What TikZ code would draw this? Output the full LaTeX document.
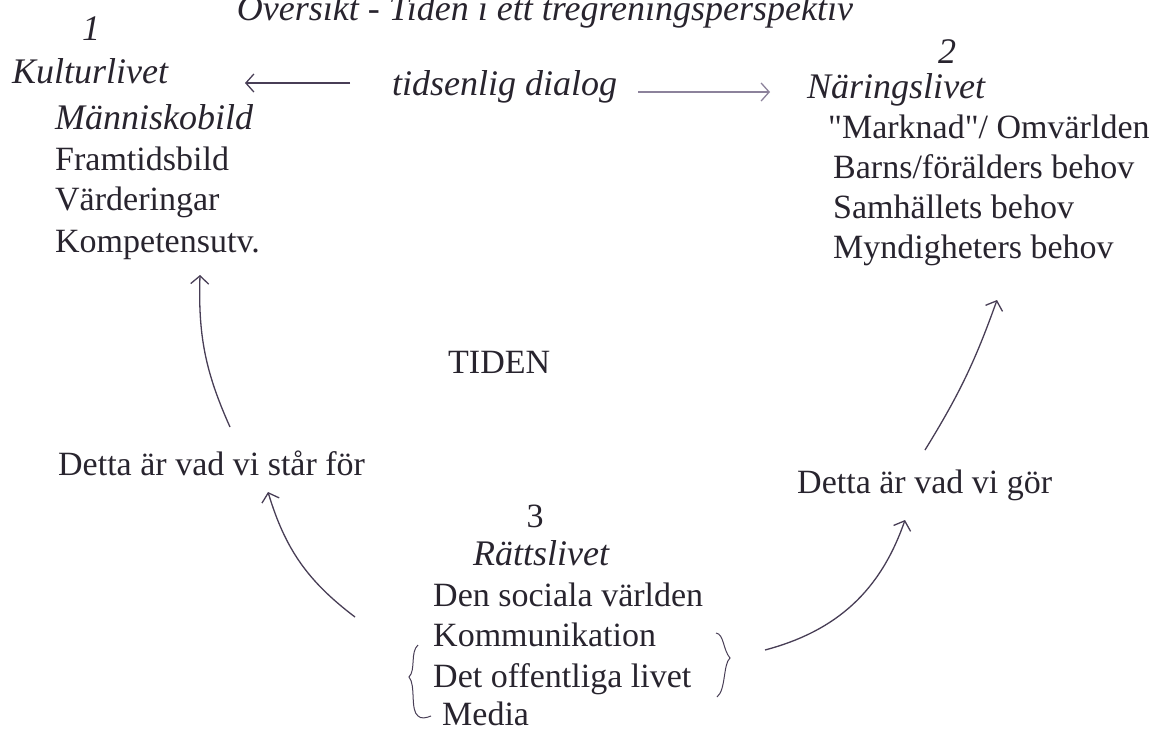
\documentclass[tikz,border=0pt]{standalone}
\usepackage{fontspec}
\setmainfont{Liberation Serif}[Ligatures=TeXOff]
\usepackage{tikz}
\usetikzlibrary{arrows.meta}

\definecolor{ink}{RGB}{40,36,46}
\definecolor{pencil}{RGB}{72,62,86}
\definecolor{lightpencil}{RGB}{140,130,155}

\begin{document}
\begin{tikzpicture}[x=1pt,y=-1pt]
            \edef\sizetxt{34}
            \edef\sizehead{36}
            \tikzstyle{txtline}=[inner sep=0pt,anchor=base west,text=ink,
            font=\fontsize{\sizetxt}{40}\selectfont]
            \tikzstyle{txthead}=[txtline,font=\fontsize{\sizehead}{40}\selectfont\itshape]
            \tikzstyle{pencil}=[draw=pencil,line width=1.3pt,
            -{Straight Barb[length=8pt,width=18pt]}]
            \tikzstyle{brace}=[draw=pencil,line width=1pt]

            \useasboundingbox (0,0) rectangle (1165,729);
            \clip (0,0) rectangle (1165,729);

            \node [txthead,anchor=base] (title) at (545,20) {Översikt - Tiden i ett tregreningsperspektiv};

            % 1
            \node [txthead,anchor=base] (one) at (91,40) {1};
            \node [txthead] (kultur) at (12,83) {Kulturlivet};
            \node [txthead] (manniska) at (55,129) {Människobild};
            \node [txtline] (framtid) at (55,170) {Framtidsbild};
            \node [txtline] (varde) at (55,210) {Värderingar};
            \node [txtline] (kompetens) at (55,252) {Kompetensutv.};

            \node [txthead] (dialog) at (392,95) {tidsenlig dialog};

            % 2
            \node [txthead,anchor=base] (two) at (947,63) {2};
            \node [txthead] (naring) at (807,98) {Näringslivet};
            \node [txtline] (marknad) at (828,138) {"Marknad"/ Omvärlden};
            \node [txtline] (barns) at (833,178) {Barns/förälders behov};
            \node [txtline] (samhalle) at (833,218) {Samhällets behov};
            \node [txtline] (myndighet) at (833,258) {Myndigheters behov};

            \node [txtline] (tiden) at (448,373) {TIDEN};
            \node [txtline] (star) at (58,475) {Detta är vad vi står för};
            \node [txtline] (gor) at (797,493) {Detta är vad vi gör};

            % 3
            \node [txtline,anchor=base] (three) at (535,527) {3};
            \node [txthead] (ratt) at (473,565) {Rättslivet};
            \node [txtline] (social) at (433,606) {Den sociala världen};
            \node [txtline] (komm) at (433,646) {Kommunikation};
            \node [txtline] (offentlig) at (433,687) {Det offentliga livet};
            \node [txtline] (media) at (442,725) {Media};

            % hand drawn arrows
            \draw [pencil] ([shift={(-42,-12)}]dialog.base west) -- ([shift={(233,0)}]kultur.base west);
            \draw [pencil,draw=lightpencil] ([shift={(246,-3)}]dialog.base west) -- ([shift={(-37,-6)}]naring.base west);
            \draw [pencil] ([shift={(172,-48)}]star.base west) to[bend left=13] ([shift={(145,23)}]kompetens.base west);
            \draw [pencil] ([shift={(128,-43)}]gor.base west) to[bend right=6] ([shift={(164,42)}]myndighet.base west);
            \draw [pencil] ([shift={(-78,11)}]social.base west) to[bend left=18] ([shift={(210,17)}]star.base west);
            \draw [pencil] ([shift={(332,-37)}]offentlig.base west) to[bend right=28] ([shift={(108,27)}]gor.base west);

            % braces
            \draw [brace] (418,645) .. controls (410,652) and (416,670) .. (409,677)
                .. controls (416,685) and (410,710) .. (418,716) .. controls (421,719) and (426,718) .. (431,716);
            \draw [brace] (716,633) .. controls (724,634) and (723,650) .. (730,658)
                .. controls (723,664) and (726,690) .. (717,697);
        \end{tikzpicture}
\end{document}
